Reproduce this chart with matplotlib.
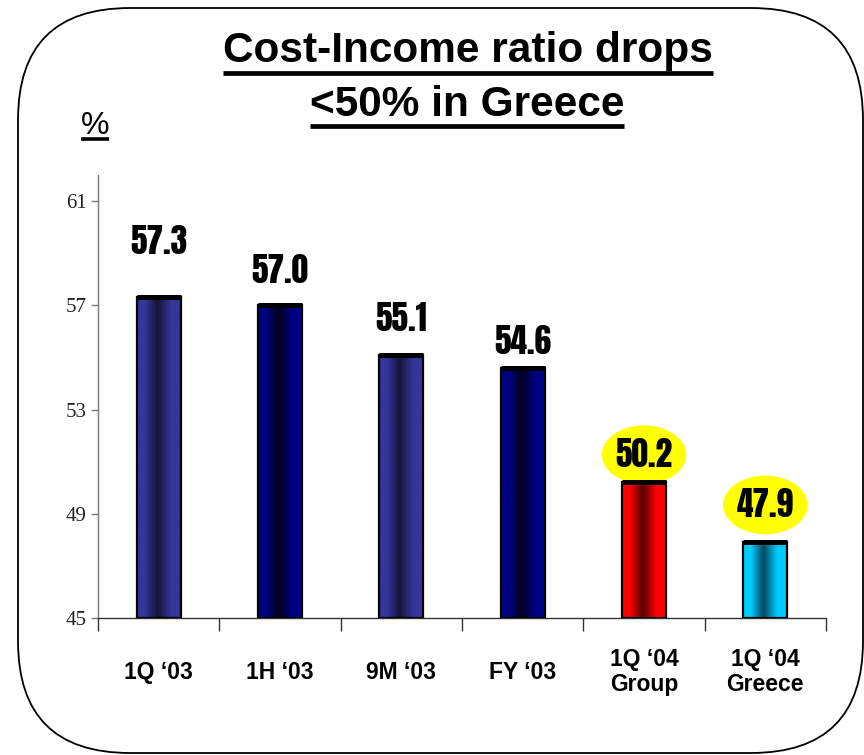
import numpy as np
import matplotlib
matplotlib.use("Agg")
import matplotlib.pyplot as plt
from matplotlib.colors import LinearSegmentedColormap
from matplotlib.patches import FancyBboxPatch
from matplotlib.lines import Line2D
from matplotlib.transforms import IdentityTransform

# ---- data -------------------------------------------------------------
categories = ["1Q \u201803", "1H \u201803", "9M \u201803", "FY \u201803",
              "1Q \u201804\nGroup", "1Q \u201804\nGreece"]
values = [57.3, 57.0, 55.1, 54.6, 50.2, 47.9]
value_labels = ["57.3", "57.0", "55.1", "54.6", "50.2", "47.9"]
y_ticks = [45, 49, 53, 57, 61]
highlighted = [False, False, False, False, True, True]

# ---- styling ------------------------------------------------------------
# (edge colour, core colour) of the cylinder-like shading on every bar
bar_shades = [("#35359c", "#141438"), ("#000084", "#00001c"),
              ("#35359c", "#141438"), ("#000084", "#00001c"),
              ("#ff0000", "#580000"), ("#00ccff", "#00475f")]
label_offsets_pt = [40, 25, 26, 19, 20, 27]
LABEL_FONT = ["Anton", "DejaVu Sans"]

W, H = 864, 755
fig = plt.figure(figsize=(W / 100, H / 100), dpi=100)
ax = fig.add_axes([98 / W, 1 - 618 / H, 728 / W, (618 - 175) / H])

x = np.arange(len(values))
base = y_ticks[0]
bars = ax.bar(x, np.array(values) - base, bottom=base, width=0.36,
              facecolor="none", edgecolor="black", linewidth=1.6, zorder=3)

for bar, (edge, core) in zip(bars, bar_shades):
    cmap = LinearSegmentedColormap.from_list(
        "shade", [(0, edge), (0.18, edge), (0.47, core), (0.78, edge), (1, edge)])
    x0, y0 = bar.get_x(), bar.get_y()
    x1, y1 = x0 + bar.get_width(), y0 + bar.get_height()
    im = ax.imshow(np.linspace(0, 1, 256)[None, :], cmap=cmap,
                   extent=[x0, x1, y0, y1], aspect="auto",
                   interpolation="bilinear", zorder=2)
    im.set_clip_path(bar)
    # heavy black rim along the top of the bar
    ax.plot([x0, x1], [y1, y1], color="black", lw=3.6,
            solid_capstyle="butt", zorder=7)

ax.set_xlim(-0.5, len(values) - 0.5)
ax.set_ylim(45, 62)

for side in ("top", "right"):
    ax.spines[side].set_visible(False)
ax.spines["left"].set_color("#7a7a7a")
ax.spines["left"].set_linewidth(1.0)
ax.spines["bottom"].set_color("#333333")
ax.spines["bottom"].set_linewidth(1.0)

ax.set_yticks(y_ticks)
ax.set_yticklabels([str(t) for t in y_ticks], family="Liberation Serif",
                   fontsize=15, color="#222222")
ax.tick_params(axis="y", direction="out", length=5, width=1,
               color="#7a7a7a", pad=3)
ax.set_xticks(np.arange(-0.5, len(values), 1.0))
ax.set_xticklabels([])
ax.tick_params(axis="x", direction="out", length=9, width=1, color="#333333")

# category names below the axis
for xi, name in zip(x, categories):
    ax.annotate(name, (xi, 0), xycoords=ax.get_xaxis_transform(),
                xytext=(0, -39), textcoords="offset points",
                ha="center", va="center", fontsize=16.5, fontweight="bold",
                family="Liberation Sans", linespacing=1.1,
                multialignment="center", annotation_clip=False)

# value labels above the bars, the latest quarter circled in yellow
for xi, v, lab, off, hl in zip(x, values, value_labels, label_offsets_pt, highlighted):
    box = None
    if hl:
        box = dict(boxstyle="ellipse,pad=0.04", mutation_aspect=3.2,
                   fc="#ffff00", ec="none")
    ax.annotate(lab, (xi, v), xytext=(0, off), textcoords="offset points",
                ha="center", va="center", fontsize=24, family=LABEL_FONT,
                bbox=box, zorder=6, annotation_clip=False)

# title and unit
title1 = fig.text(468 / W, 1 - 62 / H, "Cost-Income ratio drops", ha="center",
                  va="baseline", fontsize=30.5, fontweight="bold",
                  family="Liberation Sans")
title2 = fig.text(467 / W, 1 - 116 / H, "<50% in Greece", ha="center",
                  va="baseline", fontsize=30.5, fontweight="bold",
                  family="Liberation Sans")
unit = fig.text(95 / W, 1 - 134 / H, "%", ha="center", va="baseline",
                fontsize=23, family="Liberation Sans")

fig.canvas.draw()
renderer = fig.canvas.get_renderer()
for txt, y_line, lw in [(title1, 73, 3.4), (title2, 126, 3.4), (unit, 139, 2.6)]:
    bb = txt.get_window_extent(renderer)
    fig.add_artist(Line2D([bb.x0, bb.x1], [H - y_line, H - y_line],
                          transform=IdentityTransform(), color="black",
                          lw=lw, solid_capstyle="butt"))

# rounded frame around the slide panel
frame = FancyBboxPatch((18, 2), 845, 745,
                       boxstyle="round,pad=0,rounding_size=112",
                       transform=IdentityTransform(), fill=False,
                       ec="black", lw=1.3)
fig.add_artist(frame)

fig.savefig("out.png", dpi=100, facecolor="white")
